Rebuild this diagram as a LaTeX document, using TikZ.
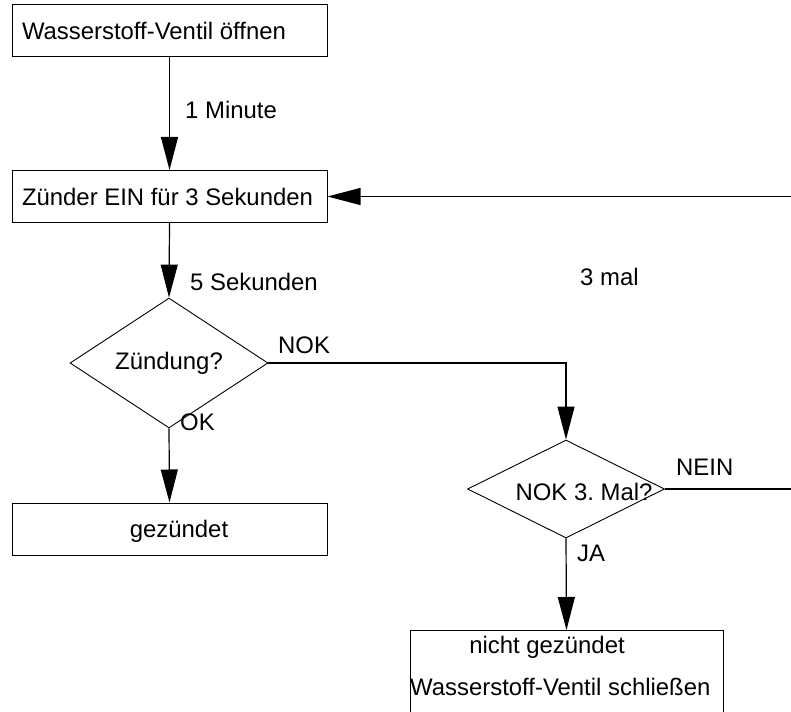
\documentclass[tikz,border=0pt]{standalone}
\usepackage{fontspec}
\setmainfont{Liberation Sans}
\frenchspacing
\usetikzlibrary{shapes.geometric,arrows.meta}
\begin{document}
\begin{tikzpicture}[x=1pt,y=-1pt,
  every node/.style={font=\fontsize{23.9pt}{28pt}\selectfont},
  box/.style={draw,line width=1pt,minimum width=315pt,minimum height=52pt,inner xsep=10pt},
  emptybox/.style={draw,line width=1pt,minimum width=313pt,minimum height=130pt,inner sep=0pt},
  decision/.style={draw,diamond,line width=0.9pt,minimum width=198pt,minimum height=99pt,inner sep=0pt},
  lbl/.style={inner sep=0pt,anchor=west},
  conn/.style={line width=1.2pt,-{Triangle[length=33pt,width=17pt]}},
  plain/.style={line width=1.2pt}]
\clip (0,0) rectangle (791,711);
\node[box] (b1) at (169.5,31) {\makebox[295pt][l]{Wasserstoff-Ventil öffnen}};
\node[box] (b2) at (169.5,196.5) {\makebox[295pt][l]{Zünder EIN für 3 Sekunden}};
\node[decision] (d1) at (169,363) {\raisebox{-4pt}{Zündung?}};
\node[draw,line width=1pt,minimum width=315pt,minimum height=52pt] (g) at (169.5,529) {};
\node[inner sep=0pt] (gt) at (179,531) {gezündet};
\node[decision,minimum width=197pt,minimum height=98pt] (d2) at (566,489) {};
\node[inner sep=0pt] (d2t) at (584,492) {NOK 3. Mal?};
\node[emptybox,anchor=north] (b3) at (566.5,630) {};
\node[inner sep=0pt,anchor=base] (b3a) at (547,653) {nicht gezündet};
\node[inner sep=0pt,anchor=base west] (b3b) at (410,695) {Wasserstoff-Ventil schließen};
\coordinate (r1) at (800,489);
\coordinate (r2) at (800,196.5);
\draw[conn] (b1.south) -- (b2.north);
\draw[conn] (b2.south) -- (d1.north);
\draw[conn] (d1.east) -| (d2.north);
\draw[conn] (d1.south) -- (g.north);
\draw[conn] (d2.south) -- (b3.north);
\draw[conn] (d2.east) -- (r1) -- (r2) -- (b2.east);
\node[lbl] (l1) at (185,110) {1 Minute};
\node[lbl] (l2) at (190,282) {5 Sekunden};
\node[lbl] (l3) at (580,277) {3 mal};
\node[lbl] (l4) at (278,345) {NOK};
\node[lbl] (l5) at (180,422) {OK};
\node[lbl] (l6) at (676,467) {NEIN};
\node[lbl] (l7) at (577,553) {JA};
\end{tikzpicture}
\end{document}
